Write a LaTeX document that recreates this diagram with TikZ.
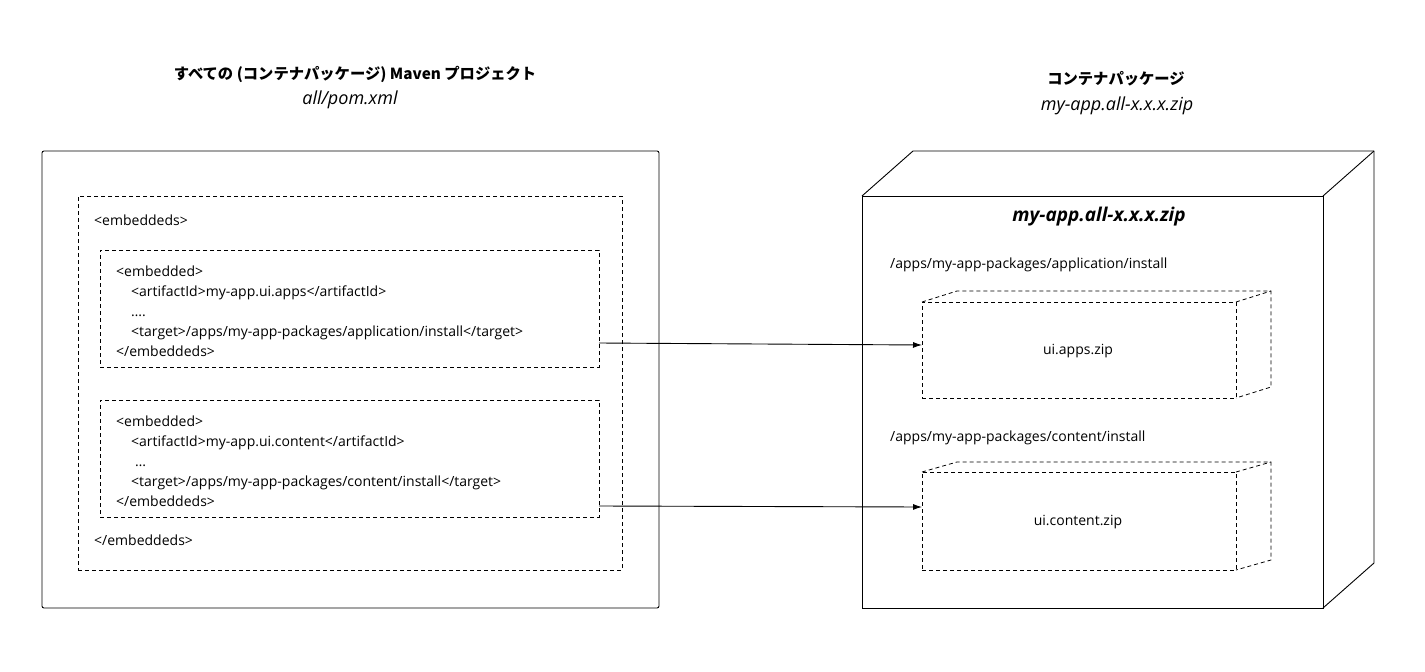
\documentclass[tikz,border=0pt]{standalone}
\usepackage{fontspec}
\setmainfont{Open Sans}
\newfontfamily\cjk{Noto Sans CJK JP}
\usetikzlibrary{arrows.meta}
\begin{document}
\begin{tikzpicture}[x=1pt,y=-1pt,
  solidbox/.style={draw,line width=0.9pt,inner sep=0pt,outer sep=0pt},
  dashbox/.style={draw,line width=0.8pt,dash pattern=on 4pt off 3pt,inner sep=0pt,outer sep=0pt},
  codeline/.style={anchor=base west,inner sep=0pt,font=\fontsize{14}{16}\selectfont},
  label/.style={inner sep=0pt,font=\fontsize{14}{16}\selectfont},
  heading/.style={anchor=base,inner sep=0pt,font=\cjk\bfseries\fontsize{15.3}{18}\selectfont},
  subheading/.style={anchor=base,inner sep=0pt,font=\itshape\fontsize{18}{20}\selectfont},
  flow/.style={line width=0.9pt,-{Latex[length=9pt,width=6pt]}}]
\useasboundingbox (0,0) rectangle (1425,672);

% headings
\node[heading] (titleL) at (355,79) {すべての (コンテナパッケージ) Maven プロジェクト};
\node[subheading] (pomL) at (350,104) {all/pom.xml};
\node[heading] (titleR) at (1116,84) {コンテナパッケージ};
\node[subheading] (zipR) at (1117,110) {my-app.all-x.x.x.zip};

% Maven project side
\node[solidbox,rounded corners=2pt,minimum width=617pt,minimum height=457pt] (pom) at (350.5,379.5) {};
\node[dashbox,minimum width=544pt,minimum height=374pt] (embs) at (350,383) {};
\node[dashbox,minimum width=499pt,minimum height=117pt] (emb1) at (349.5,308.5) {};
\node[dashbox,minimum width=499pt,minimum height=117pt] (emb2) at (349.5,458.5) {};

\node[codeline] (t0) at (94,225) {<embeddeds>};
\node[codeline] (a1) at (116,276) {<embedded>};
\node[codeline] (a2) at (131,296) {<artifactId>my-app.ui.apps</artifactId>};
\node[codeline] (a3) at (131,316) {\dots.};
\node[codeline] (a4) at (131,336) {<target>/apps/my-app-packages/application/install</target>};
\node[codeline] (a5) at (116,356) {</embeddeds>};
\node[codeline] (b1) at (116,426) {<embedded>};
\node[codeline] (b2) at (131,446) {<artifactId>my-app.ui.content</artifactId>};
\node[codeline] (b3) at (135,466) {\dots};
\node[codeline] (b4) at (131,486) {<target>/apps/my-app-packages/content/install</target>};
\node[codeline] (b5) at (116,506) {</embeddeds>};
\node[codeline] (t9) at (94,545) {</embeddeds>};

% container package cube
\node[solidbox,minimum width=461pt,minimum height=412pt] (pkg) at (1092.5,402) {};
\draw[line width=0.9pt,line join=round] (pkg.north west) -- ++(51,-45) -- ++(461,0) -- ++(0,412) -- (pkg.south east);
\draw[line width=0.9pt] (pkg.north east) -- ++(51,-45);
\node[anchor=base,inner sep=0pt,font=\bfseries\itshape\fontsize{19}{21}\selectfont] (pkgname) at (1099,221) {my-app.all-x.x.x.zip};
\node[codeline] (p1) at (890,268) {/apps/my-app-packages/application/install};
\node[codeline] (p2) at (890,441) {/apps/my-app-packages/content/install};

% embedded sub-packages
\node[dashbox,minimum width=314pt,minimum height=96pt] (zip1) at (1079,350) {};
\draw[dashbox] (zip1.north west) -- ++(35,-11) -- ++(314,0) -- ++(0,96) -- (zip1.south east);
\draw[dashbox] (zip1.north east) -- ++(35,-11);
\node[label] (zip1t) at (1078,351) {ui.apps.zip};

\node[dashbox,minimum width=314pt,minimum height=98pt] (zip2) at (1079,521) {};
\draw[dashbox] (zip2.north west) -- ++(35,-10) -- ++(314,0) -- ++(0,98) -- (zip2.south east);
\draw[dashbox] (zip2.north east) -- ++(35,-10);
\node[label] (zip2t) at (1078,522) {ui.content.zip};

% connectors
\coordinate (s1) at (0,343);
\coordinate (e1) at (0,345);
\coordinate (s2) at (0,506);
\coordinate (e2) at (0,507);
\draw[flow] (emb1.east |- s1) -- (zip1.west |- e1);
\draw[flow] (emb2.east |- s2) -- (zip2.west |- e2);
\end{tikzpicture}
\end{document}
